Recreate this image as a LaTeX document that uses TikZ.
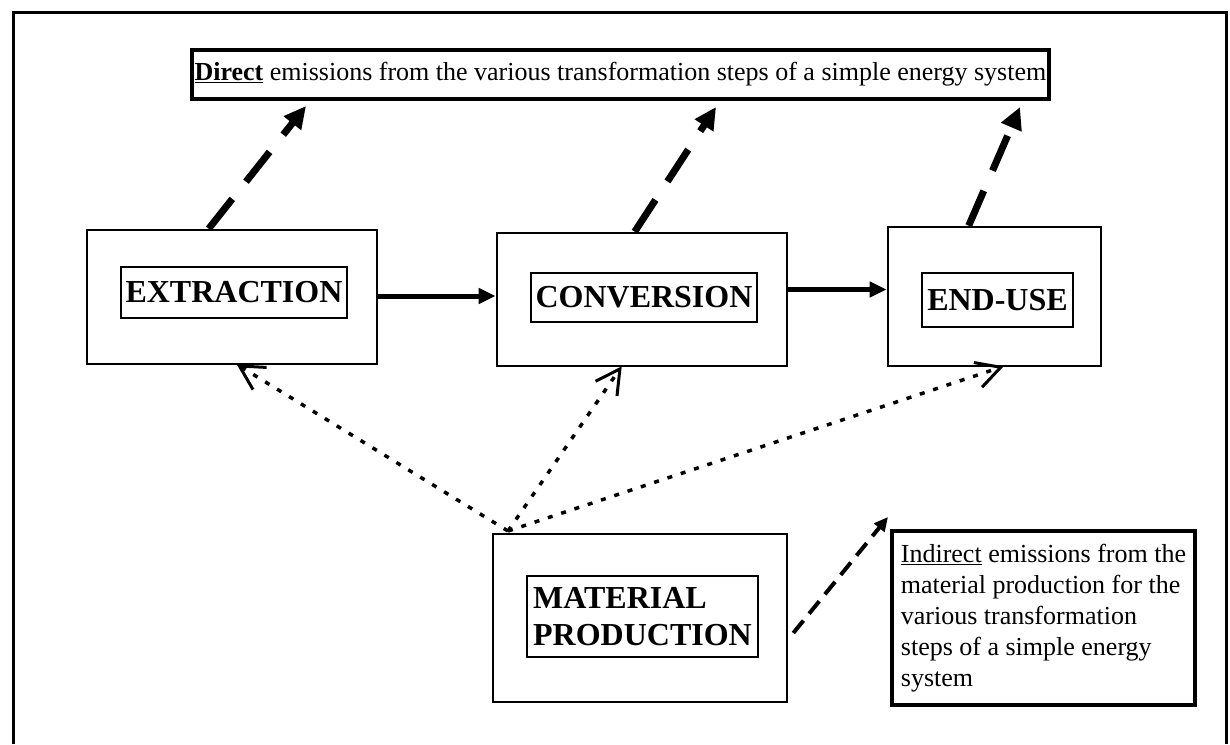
\documentclass[tikz,border=0pt]{standalone}
\usepackage{fontspec}
\setmainfont{Liberation Serif}
\usetikzlibrary{arrows.meta,calc}
\begin{document}
\begin{tikzpicture}[x=1pt,y=-1pt,
  frame/.style={draw, line width=3pt},
  stage/.style={draw, line width=2.6pt, inner sep=0pt},
  tag/.style={draw, line width=2.2pt, inner sep=0pt, font=\fontsize{32}{37}\selectfont\bfseries, align=left},
  note/.style={draw, line width=4pt, inner xsep=2.5pt, inner ysep=2pt, font=\fontsize{26}{31}\selectfont, align=left},
  flow/.style={line width=5pt, -{Triangle[length=17pt,width=15pt]}},
  direct/.style={line width=7pt, dash pattern=on 38pt off 22pt, -{Triangle[length=22pt,width=21pt]}},
  indir/.style={line width=3.5pt, dash pattern=on 5pt off 9pt, -{Straight Barb[length=24pt,width=26pt,line width=3pt]}},
  emis/.style={line width=4pt, dash pattern=on 16pt off 9pt, -{Triangle[length=14pt,width=13pt]}}
]
\useasboundingbox (0,0) rectangle (1230,744);
\draw[frame] (13,744) -- (13,12) -- (1226,12) -- (1226,744);

% direct emissions box
\node[note, anchor=north west, minimum height=49pt] (direct) at (190,48)
  {\underline{\textbf{Direct}} emissions from the various transformation steps of a simple energy system};

% stages
\node[stage, minimum width=290pt, minimum height=134pt] (ext) at (232,297) {};
\node[tag, minimum width=226pt, minimum height=51pt] (extl) at (234,292.5) {EXTRACTION};
\node[stage, minimum width=290pt, minimum height=133pt] (conv) at (642,299.5) {};
\node[tag, minimum width=226pt, minimum height=49pt] (convl) at (644,297.5) {CONVERSION};
\node[stage, minimum width=213pt, minimum height=139pt] (eu) at (994.5,296.5) {};
\node[tag, minimum width=151pt, minimum height=54pt] (eul) at (997.5,300) {END-USE};
\node[stage, minimum width=294pt, minimum height=168pt] (mat) at (640,618) {};
\node[tag, minimum width=231pt, minimum height=81pt] (matl) at (642.5,616.5) {MATERIAL\\PRODUCTION};

% indirect emissions box
\node[note, minimum width=303pt, minimum height=174pt] (indirect) at (1043.5,618)
  {\underline{Indirect} emissions from the\\material production for the\\various transformation\\steps of a simple energy\\system};

% flows
\draw[flow] ($(ext.east)+(0,-1)$) -- ($(ext.east -| conv.west)+(0,-1)$);
\draw[flow] ($(conv.east)+(0,-10)$) -- ($(conv.east -| eu.west)+(0,-10)$);

% direct emission arrows
\coordinate (t1) at (306,106);
\coordinate (t2) at (716,107);
\coordinate (t3) at (1020,107);
\draw[direct] ($(ext.north west)+(123,0)$) -- (t1);
\draw[direct] ($(conv.north west)+(139,0)$) -- (t2);
\draw[direct] ($(eu.north west)+(82,0)$) -- (t3);

% material flows (dotted)
\coordinate (m0) at (508,531);
\draw[indir] (m0) -- ($(ext.south west)+(151,-1)$);
\draw[indir] (m0) -- ($(conv.south west)+(126,-1)$);
\draw[indir] (m0) -- ($(eu.south west)+(117,-1)$);

% indirect emission arrow
\coordinate (t4) at (888,517);
\draw[emis] ($(mat.east)+(5,15)$) -- (t4);
\end{tikzpicture}
\end{document}
